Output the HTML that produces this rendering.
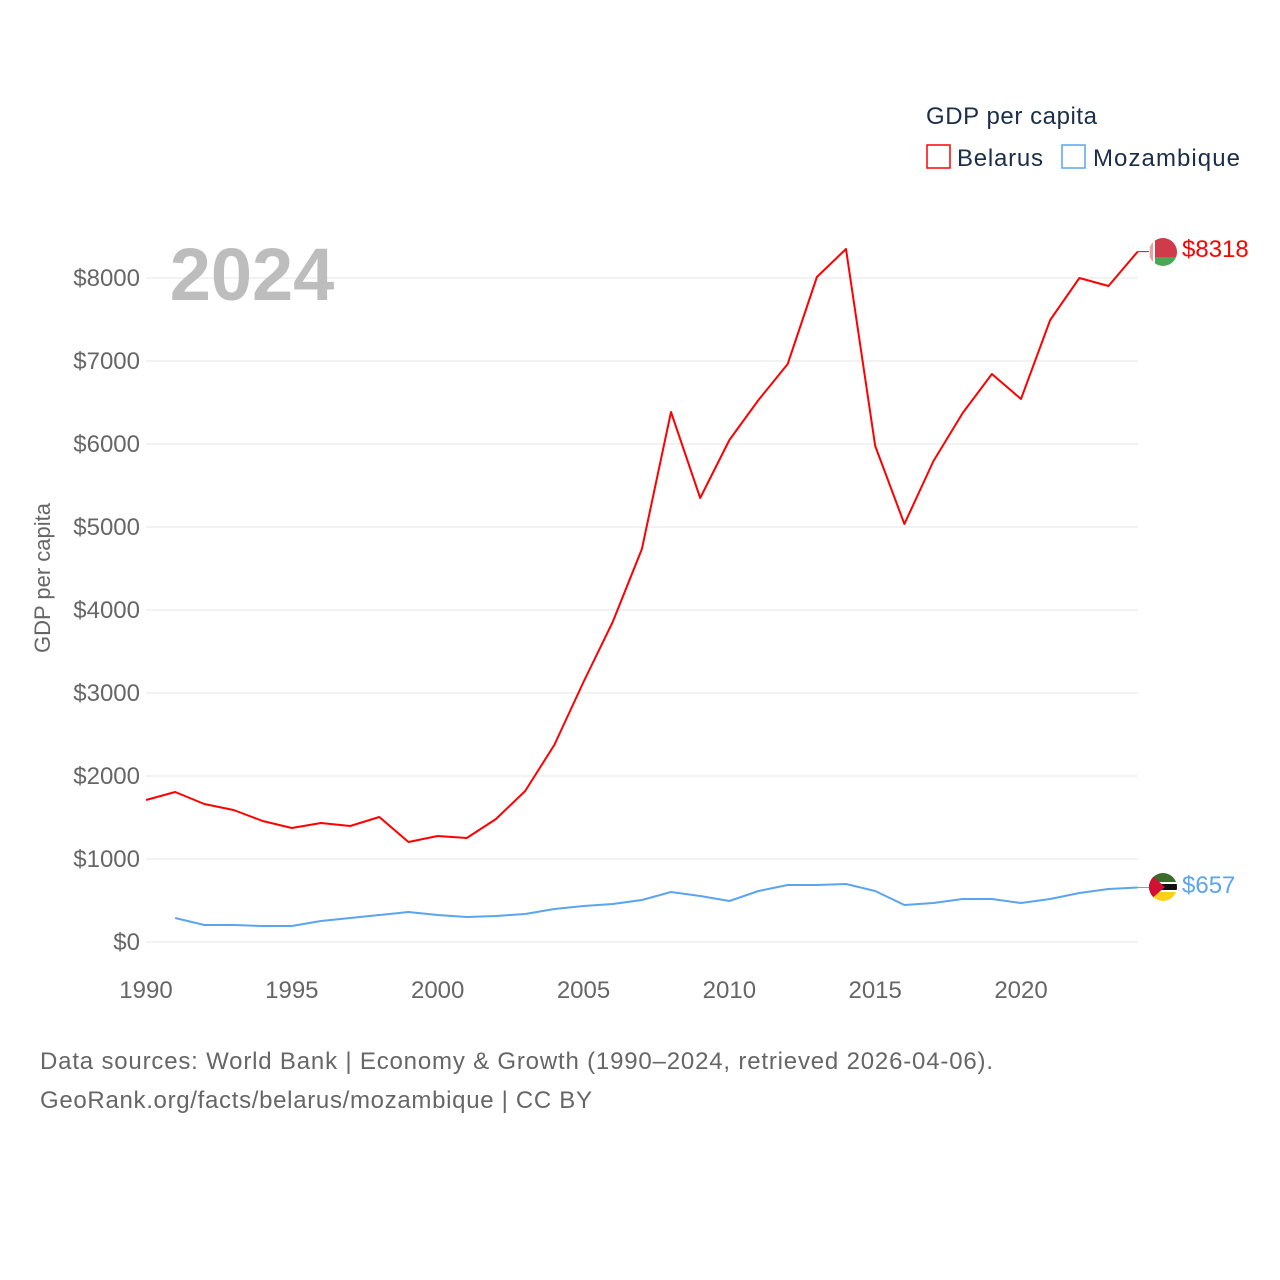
<!DOCTYPE html>
<html><head><meta charset="utf-8"><style>
html,body{margin:0;padding:0;background:#fff;}
svg{display:block;font-family:"Liberation Sans",sans-serif;}
</style></head><body>
<svg id="chart" width="1280" height="1280" viewBox="0 0 1280 1280">
<g id="grid"></g>
<g id="yticks"></g>
<g id="xticks"></g>
<text x="252" y="300" font-size="74" font-weight="bold" fill="#bdbdbd" text-anchor="middle">2024</text>
<text transform="translate(50,578) rotate(-90)" font-size="22" fill="#666" text-anchor="middle">GDP per capita</text>
<g id="series"></g>
<g>
<text x="926" y="124" font-size="24" fill="#1a2e4a" textLength="171">GDP per capita</text>
<g><rect x="927" y="145" width="23" height="23" fill="none" stroke="#f00" stroke-width="1.5"/><text x="957" y="166" font-size="24" fill="#1a2e4a" textLength="86">Belarus</text></g>
<g><rect x="1062" y="145" width="23" height="23" fill="none" stroke="#5ba4ee" stroke-width="1.5"/><text x="1093" y="166" font-size="24" fill="#1a2e4a" textLength="147">Mozambique</text></g>
</g>
<g>
<clipPath id="c1"><circle cx="1163" cy="252" r="14"/></clipPath>
<g clip-path="url(#c1)"><rect x="1149" y="238" width="28" height="19" fill="#cf3b48"/><rect x="1149" y="257" width="28" height="9" fill="#4aa657"/><rect x="1149" y="238" width="6" height="28" fill="#fff"/><rect x="1150" y="238" width="3" height="28" fill="#e8a0a6"/></g>
</g>
<g>
<clipPath id="c2"><circle cx="1163" cy="887" r="14"/></clipPath>
<g clip-path="url(#c2)"><rect x="1149" y="873" width="28" height="9" fill="#3b6b2a"/><rect x="1149" y="882" width="28" height="10" fill="#fff"/><rect x="1149" y="884" width="28" height="6" fill="#111"/><rect x="1149" y="892" width="28" height="9" fill="#fcd116"/><polygon points="1149,873 1165,887 1149,901" fill="#d21034"/></g>
</g>
<text x="1182" y="257" font-size="24" fill="#f00">$8318</text>
<text x="1182" y="893" font-size="24" fill="#5ba4ee">$657</text>
<text x="40" y="1069" font-size="24" fill="#666" textLength="953">Data sources: World Bank | Economy &amp; Growth (1990–2024, retrieved 2026-04-06).</text>
<text x="40" y="1108" font-size="24" fill="#666" textLength="552">GeoRank.org/facts/belarus/mozambique | CC BY</text>
</svg>
<script>
const years = [1990,1991,1992,1993,1994,1995,1996,1997,1998,1999,2000,2001,2002,2003,2004,2005,2006,2007,2008,2009,2010,2011,2012,2013,2014,2015,2016,2017,2018,2019,2020,2021,2022,2023,2024];
const belarus = [1711,1807,1663,1590,1458,1373,1434,1398,1506,1205,1277,1253,1482,1819,2373,3133,3855,4735,6386,5349,6048,6530,6964,8012,8349,5976,5036,5795,6373,6843,6542,7494,8000,7904,8318];
const mozambique = [null,289,205,205,193,193,253,289,325,361,325,301,313,337,398,434,458,506,602,554,494,614,687,687,699,614,446,470,518,518,470,518,590,639,657];
const yTicks = [0,1000,2000,3000,4000,5000,6000,7000,8000];
const xTicks = [1990,1995,2000,2005,2010,2015,2020];
const NS="http://www.w3.org/2000/svg";
const x = v => 146 + (v-1990)*(1137.7-146)/34;
const y = v => 942 - v*0.083;
function mk(tag, attrs, parent){const e=document.createElementNS(NS,tag);for(const k in attrs)e.setAttribute(k,attrs[k]);parent.appendChild(e);return e;}
const grid=document.getElementById('grid'), yt=document.getElementById('yticks'), xt=document.getElementById('xticks'), ser=document.getElementById('series');
yTicks.forEach(t=>{
  const l=mk('line',{x1:146,x2:1138,y1:y(t),y2:y(t),stroke:'#e6e6e6','stroke-width':1},grid);
  
  
  const tx=mk('text',{x:140,y:y(t)+8,'font-size':24,fill:'#666','text-anchor':'end'},yt);
  tx.textContent='$'+t;
  
  
});
xTicks.forEach(t=>{
  const tx=mk('text',{x:x(t),y:998,'font-size':24,fill:'#666','text-anchor':'middle'},xt);
  tx.textContent=t;
  
  
});
function line(vals,color,name){
  const pts=[];vals.forEach((v,i)=>{if(v!==null)pts.push(x(years[i]).toFixed(1)+','+y(v).toFixed(1));});
  const p=mk('polyline',{points:pts.join(' '),fill:'none',stroke:color,'stroke-width':2,'stroke-linejoin':'round'},ser);
  
  
  const last=vals[vals.length-1];
  const c=mk('line',{x1:x(2024),x2:1149,y1:y(last),y2:y(last),stroke:color,'stroke-width':1},ser);
  
  
}
line(belarus,'#f00','line-belarus');
line(mozambique,'#5ba4ee','line-mozambique');
</script>
</body></html>
